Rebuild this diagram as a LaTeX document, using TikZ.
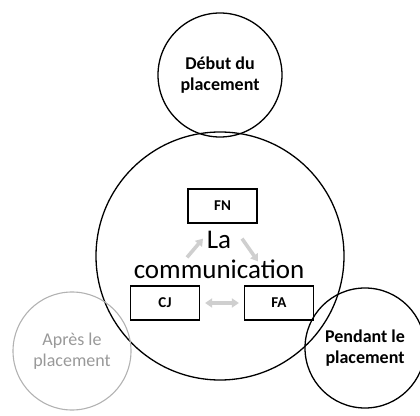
\documentclass[tikz,border=0pt]{standalone}
\usepackage{fontspec}
\setmainfont{Carlito}
\usepackage{tikz}
\usetikzlibrary{arrows.meta, shapes}

\begin{document}
\begin{tikzpicture}[x=1pt, y=1pt,
  phase/.style={circle, draw=black, line width=1.3pt, align=center,
    font=\bfseries\fontsize{18}{21}\selectfont},
  %
  latephase/.style={circle, draw=gray!60, line width=1.1pt, align=center,
    text=gray!80, font=\fontsize{18}{21}\selectfont},
  %
  core/.style={circle, draw=black, line width=1.3pt},
  %
  actor/.style={rectangle, draw=black, line width=1.2pt, minimum width=69pt,
    minimum height=34pt, font=\bfseries\fontsize{15}{17}\selectfont},
  %
  flow/.style={draw=gray!38, line width=3.6pt,
    -{Triangle[length=7pt, width=9pt]}}
  ]

  \useasboundingbox (0,0) rectangle (420,415);

  \begin{scope}
    % the three moments of the placement
    \node [core, minimum size=248pt] (comm) at (220,159) {};
    \node [phase, minimum size=124pt] (debut) at (220,340)
      {D\'ebut du\\placement};
    \node [phase, minimum size=120pt] (pendant) at (365,67)
      {Pendant le\\placement};
    \node [latephase, minimum size=118pt] (apres) at (72,64)
      {Apr\`es le\\placement};
  \end{scope}

  \begin{scope}
    % the three parties
    \node [actor] (FN) at (222.5,209) {FN};
    \node [actor] (CJ) at (165,112) {CJ};
    \node [actor] (FA) at (279,112) {FA};
    \node [align=center, inner sep=0pt,
      font=\fontsize{27}{30}\selectfont] (label) at (219,160)
      {La\\communication};
  \end{scope}

  \begin{scope}
    \draw [flow] ([shift={(22,28)}]CJ.north) -- ([shift={(-19.5,-15)}]FN.south);
    \draw [flow] ([shift={(19.5,-15)}]FN.south) -- ([shift={(-21,24)}]FA.north);
    \draw [flow, {Triangle[length=7pt, width=9pt]}-{Triangle[length=7pt, width=9pt]},
      shorten <=5pt, shorten >=5pt] (CJ.east) -- (FA.west);
  \end{scope}

\end{tikzpicture}
\end{document}
